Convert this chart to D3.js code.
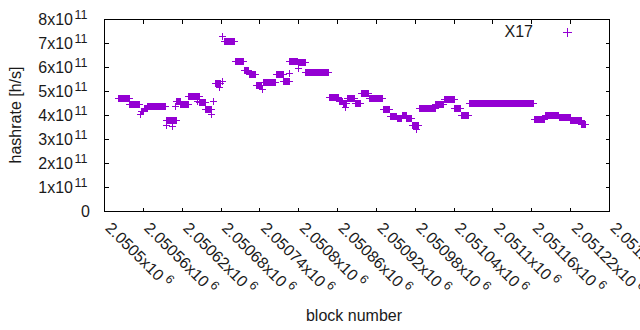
<!DOCTYPE html>
<html><head><meta charset="utf-8">
<script src="https://cdn.jsdelivr.net/npm/d3@7/dist/d3.min.js"></script>
<style>body{margin:0;background:#fff}svg{display:block}text{font-family:"Liberation Sans",Arial,sans-serif;fill:#1a1a1a}</style>
</head><body><div id="chart"></div>
<script>
const seriesName = "X17";
const blockBase = 2050500;
// runs of constant estimated hashrate (block offsets from blockBase, inclusive)
const runStart = [22,39,57,62,66,95,111,118,130,147,156,171,185,202,216,224,234,246,266,277,286,299,311,347,363,369,375,387,397,409,431,441,452,460,467,475,486,512,525,541,551,563,664,681,702,720,737];
const runEnd   = [38,54,61,66,94,111,117,130,146,156,165,179,201,215,223,233,243,264,276,285,298,310,346,362,368,374,386,396,408,430,440,451,459,466,474,485,511,524,540,550,562,663,680,701,719,736,743];
const runValue = [4.70,4.44,4.15,4.28,4.36,3.79,4.60,4.46,4.81,4.55,4.24,5.35,7.07,6.24,5.86,5.71,5.25,5.36,5.70,5.40,6.24,6.19,5.80,4.76,4.60,4.50,4.70,4.49,4.90,4.70,4.24,3.96,3.86,4.00,3.86,3.58,4.29,4.44,4.65,4.30,4.00,4.49,3.83,3.98,3.93,3.79,3.62];
// isolated points
const singleBlock = [56,95,105,110,143,166,169,178,183,182,244,285,299,372,482];
const singleValue = [4.03,3.60,3.54,4.39,4.58,4.03,4.58,5.18,5.42,7.29,5.07,5.74,5.97,4.35,3.40];
const xTicks = [2050500,2050560,2050620,2050680,2050740,2050800,2050860,2050920,2050980,2051040,2051100,2051160,2051220,2051280];
const xTickMantissa = ["2.0505","2.05056","2.05062","2.05068","2.05074","2.0508","2.05086","2.05092","2.05098","2.05104","2.0511","2.05116","2.05122","2.05128"];
const yTicks = [0,1,2,3,4,5,6,7,8];
const yUnit = 1e11;

const W=640,H=330, L=104.5, R=609.5, T=19.5, B=211.5;
const color = "#9400d3";
const svg = d3.select("#chart").append("svg").attr("width",W).attr("height",H);
const x = d3.scaleLinear().domain([xTicks[0], xTicks[xTicks.length-1]]).range([L,R]);
const y = d3.scaleLinear().domain([0, 8*yUnit]).range([B,T]);

// build point list
const pts = [];
runStart.forEach((s,i)=>{ for(let b=s;b<=runEnd[i];b++) pts.push([blockBase+b, runValue[i]*yUnit]); });
singleBlock.forEach((b,i)=>pts.push([blockBase+b, singleValue[i]*yUnit]));

function plus(cx,cy){
  const xr=Math.floor(cx), yr=Math.floor(cy);
  return `M${xr-3},${yr+0.5}H${xr+4}M${xr+0.5},${yr-3}V${yr+4}`;
}
svg.append("path").attr("d", pts.map(p=>plus(x(p[0]),y(p[1]))).join(""))
  .attr("stroke",color).attr("stroke-width",1).attr("fill","none").attr("shape-rendering","crispEdges");

// frame
svg.append("rect").attr("x",L).attr("y",T).attr("width",R-L).attr("height",B-T)
  .attr("fill","none").attr("stroke","#000").attr("shape-rendering","crispEdges");
const tl=4;
const g = svg.append("g").attr("stroke","#000").attr("shape-rendering","crispEdges");
yTicks.forEach(v=>{
  const yy=Math.round(y(v*yUnit)-0.5)+0.5;
  g.append("line").attr("x1",L).attr("x2",L+tl).attr("y1",yy).attr("y2",yy);
  g.append("line").attr("x1",R).attr("x2",R-tl).attr("y1",yy).attr("y2",yy);
});
xTicks.forEach(v=>{
  const xx=Math.round(x(v)-0.5)+0.5;
  g.append("line").attr("x1",xx).attr("x2",xx).attr("y1",B).attr("y2",B-tl);
  g.append("line").attr("x1",xx).attr("x2",xx).attr("y1",T).attr("y2",T+tl);
});
// y tick labels
yTicks.forEach(v=>{
  const yy=y(v*yUnit)+5.5;
  if(v===0){
    svg.append("text").attr("x",90).attr("y",yy).attr("text-anchor","end").attr("font-size",16).text("0");
  } else {
    svg.append("text").attr("x",73).attr("y",yy).attr("text-anchor","end").attr("font-size",16).text(v+"x10");
    svg.append("text").attr("x",74.5).attr("y",yy-6.5).attr("font-size",12.5).text("11");
  }
});
// x tick labels
xTicks.forEach((v,i)=>{
  const t = svg.append("text").attr("transform",`translate(${x(v)},229) rotate(45)`).attr("font-size",16);
  t.append("tspan").text(xTickMantissa[i]+"x10");
  t.append("tspan").attr("dx",3.5).attr("dy",-6.5).attr("font-size",12.5).text("6");
});
// axis titles
svg.append("text").attr("x",354).attr("y",321).attr("text-anchor","middle").attr("font-size",16).text("block number");
svg.append("text").attr("transform","translate(21,115) rotate(-90)").attr("text-anchor","middle").attr("font-size",16).text("hashrate [h/s]");
// legend
svg.append("text").attr("x",533).attr("y",37).attr("text-anchor","end").attr("font-size",16).text(seriesName);
svg.append("path").attr("d",`M563,32.5H572M567.5,28V37`).attr("stroke",color).attr("shape-rendering","crispEdges");
</script></body></html>
